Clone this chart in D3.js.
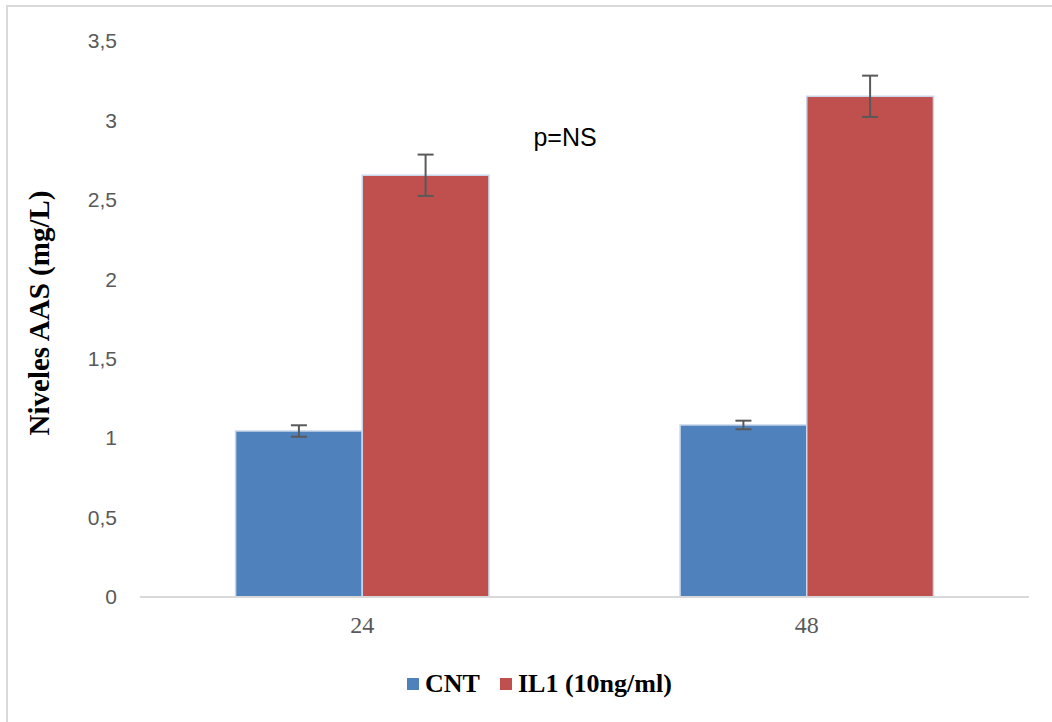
<!DOCTYPE html>
<html>
<head>
<meta charset="utf-8">
<script src="https://cdn.jsdelivr.net/npm/d3@7/dist/d3.min.js"></script>
<style>
  html, body { margin: 0; padding: 0; background: #fff; }
  svg { display: block; }
</style>
</head>
<body>
<svg id="chart" width="1052" height="722"></svg>
<script>
// Time points (hours) and treatment groups
const categories = ["24", "48"];
const seriesNames = ["CNT", "IL1 (10ng/ml)"];
const cntValues = [1.045, 1.083];
const il1Values = [2.655, 3.152];
const cntErrors = [0.036, 0.027];
const il1Errors = [0.13, 0.13];
const yTicks = [0, 0.5, 1, 1.5, 2, 2.5, 3, 3.5];
const annotation = "p=NS";
const yTitle = "Niveles AAS (mg/L)";

const colors = ["#4f81bd", "#c0504d"];

const svg = d3.select("#chart");

// outer chart frame
svg.append("rect")
  .attr("x", 7).attr("y", 6)
  .attr("width", 1100).attr("height", 800)
  .attr("fill", "#fff")
  .attr("stroke", "#d9d9d9")
  .attr("stroke-width", 2);

const plot = { left: 140, right: 1029, top: 41, bottom: 597 };

const x = d3.scaleBand()
  .domain(categories)
  .range([plot.left, plot.right])
  .paddingInner(0.43)
  .paddingOuter(0.215);

const xs = d3.scaleBand()
  .domain(seriesNames)
  .range([0, x.bandwidth()])
  .padding(0);

const y = d3.scaleLinear()
  .domain([0, 3.5])
  .range([plot.bottom, plot.top]);

const rows = categories.map((c, i) => ({
  cat: c,
  vals: [
    { s: seriesNames[0], v: cntValues[i], e: cntErrors[i], color: colors[0] },
    { s: seriesNames[1], v: il1Values[i], e: il1Errors[i], color: colors[1] }
  ]
}));

// y axis labels (no axis line)
const yAxis = d3.axisLeft(y)
  .tickValues(yTicks)
  .tickSize(0)
  .tickPadding(0)
  .tickFormat(d => d3.format("~g")(d).replace(".", ","));

svg.append("g")
  .attr("transform", `translate(${plot.left - 23},0)`)
  .call(yAxis)
  .call(g => g.select(".domain").remove())
  .call(g => g.selectAll("text")
    .attr("fill", "#595959")
    .attr("font-family", "'Liberation Sans', Arial, sans-serif")
    .attr("font-size", 21));

// bars
const groups = svg.append("g").selectAll("g")
  .data(rows)
  .join("g")
  .attr("transform", d => `translate(${x(d.cat)},0)`);

groups.selectAll("rect")
  .data(d => d.vals)
  .join("rect")
  .attr("x", d => xs(d.s))
  .attr("y", d => y(d.v))
  .attr("width", xs.bandwidth())
  .attr("height", d => y(0) - y(d.v))
  .attr("fill", d => d.color)
  .attr("stroke", "#c9d7ea")
  .attr("stroke-width", 1.5);

// x axis baseline
svg.append("line")
  .attr("x1", plot.left).attr("x2", plot.right)
  .attr("y1", y(0)).attr("y2", y(0))
  .attr("stroke", "#d9d9d9")
  .attr("stroke-width", 2);

// error bars
const capHalf = 8;
const eb = groups.selectAll("g.err")
  .data(d => d.vals)
  .join("g")
  .attr("class", "err")
  .attr("stroke", "#595959")
  .attr("stroke-width", 2);

eb.append("line")
  .attr("x1", d => xs(d.s) + xs.bandwidth() / 2)
  .attr("x2", d => xs(d.s) + xs.bandwidth() / 2)
  .attr("y1", d => y(d.v + d.e))
  .attr("y2", d => y(d.v - d.e));
eb.append("line")
  .attr("x1", d => xs(d.s) + xs.bandwidth() / 2 - capHalf)
  .attr("x2", d => xs(d.s) + xs.bandwidth() / 2 + capHalf)
  .attr("y1", d => y(d.v + d.e))
  .attr("y2", d => y(d.v + d.e));
eb.append("line")
  .attr("x1", d => xs(d.s) + xs.bandwidth() / 2 - capHalf)
  .attr("x2", d => xs(d.s) + xs.bandwidth() / 2 + capHalf)
  .attr("y1", d => y(d.v - d.e))
  .attr("y2", d => y(d.v - d.e));

// category labels
const xAxis = d3.axisBottom(x).tickSize(0).tickPadding(0);
svg.append("g")
  .attr("transform", `translate(0,${y(0) + 19})`)
  .call(xAxis)
  .call(g => g.select(".domain").remove())
  .call(g => g.selectAll("text")
    .attr("fill", "#595959")
    .attr("font-family", "'Liberation Serif', 'DejaVu Serif', serif")
    .attr("font-size", 24));

// y axis title
svg.append("text")
  .attr("transform", `translate(39,${(plot.top + plot.bottom) / 2 - 6}) rotate(-90)`)
  .attr("text-anchor", "middle")
  .attr("dominant-baseline", "central")
  .attr("font-family", "'Liberation Serif', 'DejaVu Serif', serif")
  .attr("font-weight", "bold")
  .attr("font-size", 29)
  .attr("fill", "#000")
  .text(yTitle);

// significance annotation
svg.append("text")
  .attr("x", 565).attr("y", 146)
  .attr("text-anchor", "middle")
  .attr("font-family", "'Liberation Sans', Arial, sans-serif")
  .attr("font-size", 25)
  .attr("fill", "#000")
  .text(annotation);

// legend
const legendItems = [
  { name: seriesNames[0], color: colors[0], x: 407 },
  { name: seriesNames[1], color: colors[1], x: 500 }
];
const lg = svg.append("g").selectAll("g")
  .data(legendItems)
  .join("g")
  .attr("transform", d => `translate(${d.x},678)`);
lg.append("rect")
  .attr("width", 12).attr("height", 12)
  .attr("fill", d => d.color);
lg.append("text")
  .attr("x", 18).attr("y", 14)
  .attr("font-family", "'Liberation Serif', 'DejaVu Serif', serif")
  .attr("font-weight", "bold")
  .attr("font-size", 26)
  .attr("fill", "#000")
  .text(d => d.name);
</script>
</body>
</html>
